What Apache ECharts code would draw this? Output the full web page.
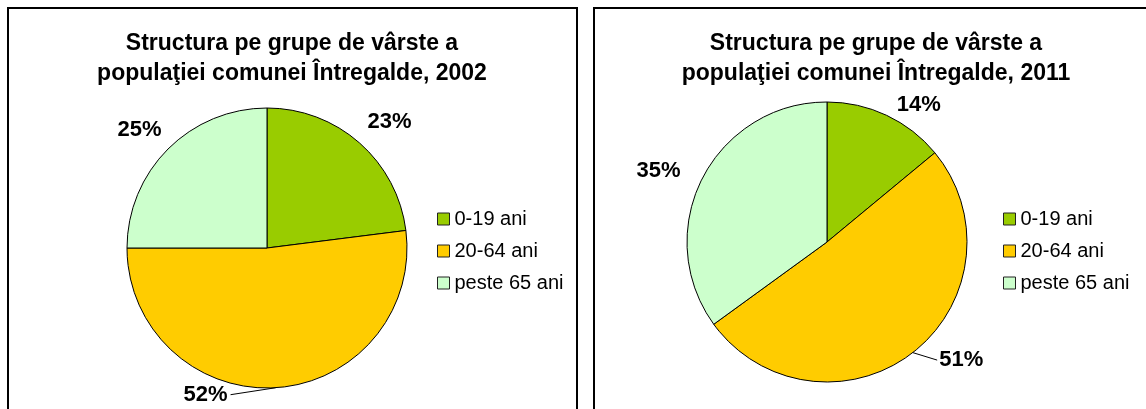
<!DOCTYPE html>
<html>
<head>
<meta charset="utf-8">
<script src="https://cdn.jsdelivr.net/npm/echarts@6/dist/echarts.min.js"></script>
<style>
html,body{margin:0;padding:0;background:#fff;}
#chart{width:1146px;height:409px;}
</style>
</head>
<body>
<div id="chart"></div>
<script>
var categories = ['0-19 ani', '20-64 ani', 'peste 65 ani'];
var values2002 = [23, 52, 25];
var values2011 = [14, 51, 35];
var title2002 = 'Structura pe grupe de vârste a\npopulaţiei comunei Întregalde, 2002';
var title2011 = 'Structura pe grupe de vârste a\npopulaţiei comunei Întregalde, 2011';
var colors = ['#99CC00', '#FFCC00', '#CCFFCC'];

var FONT = 'Liberation Sans, Arial, sans-serif';
// label nudges (style only) to mimic Excel's label placement
var labelNudge = [
  [[-13, -12], [-106, -5], [15, -11]],
  [[-8, 0], [6, -2], [2, -2]]
];

function buildData(vals) {
  return categories.map(function (c, i) {
    var d = { name: c, value: vals[i] };
    if (i === 1) d.labelLine = { show: true };
    return d;
  });
}

function pieSeries(vals, center) {
  return {
    type: 'pie',
    center: center,
    radius: 140,
    startAngle: 90,
    clockwise: true,
    avoidLabelOverlap: false,
    animation: false,
    silent: true,
    data: buildData(vals),
    itemStyle: { borderColor: '#000', borderWidth: 1 },
    label: {
      show: true,
      position: 'outside',
      formatter: '{d}%',
      color: '#000',
      fontFamily: FONT,
      fontWeight: 'bold',
      fontSize: 22
    },
    labelLine: {
      show: false,
      length: 12,
      length2: 8,
      lineStyle: { color: '#000', width: 1 }
    },
    labelLayout: function (p) {
      var n = labelNudge[p.seriesIndex][p.dataIndex];
      var out = { dx: n[0], dy: n[1] };
      if (p.labelLinePoints && p.labelLinePoints.length) {
        var p0 = p.labelLinePoints[0];
        var r = p.labelRect;
        var lx = r.x + n[0], cy = r.y + r.height / 2 + n[1];
        var ex = (lx + r.width / 2 < p0[0]) ? lx + r.width + 3 : lx - 2;
        out.labelLinePoints = [[p0[0], p0[1]], [ex, cy]];
      }
      return out;
    }
  };
}

function legendAt(left) {
  return {
    orient: 'vertical',
    left: left,
    top: 209,
    padding: 0,
    itemWidth: 12,
    itemHeight: 12,
    itemGap: 12,
    icon: 'rect',
    selectedMode: false,
    itemStyle: { borderColor: '#222', borderWidth: 1 },
    textStyle: { fontFamily: FONT, fontSize: 20, color: '#000' },
    data: categories
  };
}

var chart = echarts.init(document.getElementById('chart'), null, { renderer: 'canvas' });
chart.setOption({
  animation: false,
  color: colors,
  legend: [legendAt(437), legendAt(1003)],
  graphic: [
    { type: 'rect', shape: { x: 8, y: 8, width: 569, height: 440 }, style: { fill: 'none', stroke: '#000', lineWidth: 2 } },
    { type: 'rect', shape: { x: 594, y: 8, width: 600, height: 440 }, style: { fill: 'none', stroke: '#000', lineWidth: 2 } },
    { type: 'text', x: 292, y: 59, style: { text: title2002, align: 'center', verticalAlign: 'middle', fontFamily: FONT, fontWeight: 'bold', fontSize: 23, lineHeight: 30, fill: '#000' } },
    { type: 'text', x: 876, y: 59, style: { text: title2011, align: 'center', verticalAlign: 'middle', fontFamily: FONT, fontWeight: 'bold', fontSize: 23, lineHeight: 30, fill: '#000' } }
  ],
  series: [
    pieSeries(values2002, [267, 248]),
    pieSeries(values2011, [827, 242])
  ]
});
</script>
</body>
</html>
